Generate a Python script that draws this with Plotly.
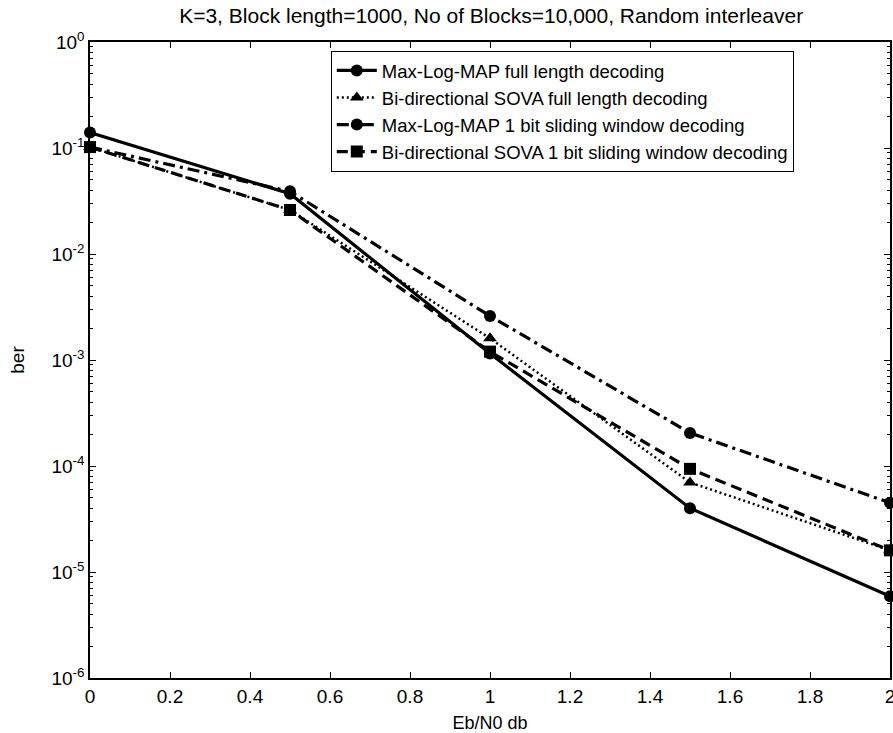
import plotly.graph_objects as go

ebn0 = [0, 0.5, 1.0, 1.5, 2.0]
maxlog_full = [0.14, 0.037, 1.15e-3, 4.0e-5, 5.9e-6]
sova_full = [0.102, 0.026, 1.6e-3, 7.0e-5, 1.6e-5]
maxlog_sw = [0.102, 0.039, 2.6e-3, 2.05e-4, 4.5e-5]
sova_sw = [0.102, 0.026, 1.2e-3, 9.4e-5, 1.6e-5]

names = ["Max-Log-MAP full length decoding",
         "Bi-directional SOVA full length decoding",
         "Max-Log-MAP 1 bit sliding window decoding",
         "Bi-directional SOVA 1 bit sliding window decoding"]

ytick_vals = [1, 1e-1, 1e-2, 1e-3, 1e-4, 1e-5, 1e-6]
ytick_text = ["10<sup>0</sup>", "10<sup>-1</sup>", "10<sup>-2</sup>", "10<sup>-3</sup>",
              "10<sup>-4</sup>", "10<sup>-5</sup>", "10<sup>-6</sup>"]
xtick_vals = [0, 0.2, 0.4, 0.6, 0.8, 1.0, 1.2, 1.4, 1.6, 1.8, 2.0]
xtick_text = ["0", "0.2", "0.4", "0.6", "0.8", "1", "1.2", "1.4", "1.6", "1.8", "2"]

fig = go.Figure()
styles = [
    (maxlog_full, "solid", "circle", 3.2),
    (sova_full, "2px,3px", "triangle-up", 2.5),
    (maxlog_sw, "12px,5px,3px,5px", "circle", 3.2),
    (sova_sw, "11px,6px", "square", 3.2),
]
for (ys, dash, sym, w), name in zip(styles, names):
    fig.add_trace(go.Scatter(
        x=ebn0, y=ys, name=name, mode="lines+markers",
        line=dict(color="black", width=w, dash=dash),
        marker=dict(symbol=sym, size=12, color="black"),
        cliponaxis=False,
    ))

axis_common = dict(showline=True, linecolor="black", linewidth=1.5, mirror="ticks",
                   ticks="inside", tickcolor="black", ticklen=6, showgrid=False,
                   zeroline=False, automargin=False, ticklabeloverflow="allow",
                   tickfont=dict(size=19, color="black"))

fig.update_layout(
    width=893, height=733,
    paper_bgcolor="white", plot_bgcolor="white",
    margin=dict(l=90, r=3, t=42, b=55),
    font=dict(family="Liberation Sans, Arial, sans-serif", color="black", size=18),
    title=dict(text="K=3, Block length=1000, No of Blocks=10,000, Random interleaver",
               x=0.55, xanchor="center", y=0.979, yanchor="middle",
               font=dict(size=21, color="black")),
    showlegend=True,
    legend=dict(x=0.301, y=0.986, xanchor="left", yanchor="top",
                bgcolor="white", bordercolor="black", borderwidth=1,
                font=dict(size=18.5, color="black"), tracegroupgap=0,
                itemwidth=40),
    xaxis=dict(range=[0, 2], tickvals=xtick_vals, ticktext=xtick_text,
               title=dict(text="Eb/N0 db", standoff=11, font=dict(size=18)), **axis_common),
    yaxis=dict(type="log", range=[-6, 0], tickvals=ytick_vals, ticktext=ytick_text,
               minor=dict(ticks="inside", ticklen=3, tickcolor="black", dtick="D1", showgrid=False),
               title=dict(text="ber", standoff=22, font=dict(size=19)), **axis_common),
)

fig.write_html("out.html", config={"displayModeBar": False},
               post_script="document.body.style.margin='0';document.body.style.overflow='hidden';")
